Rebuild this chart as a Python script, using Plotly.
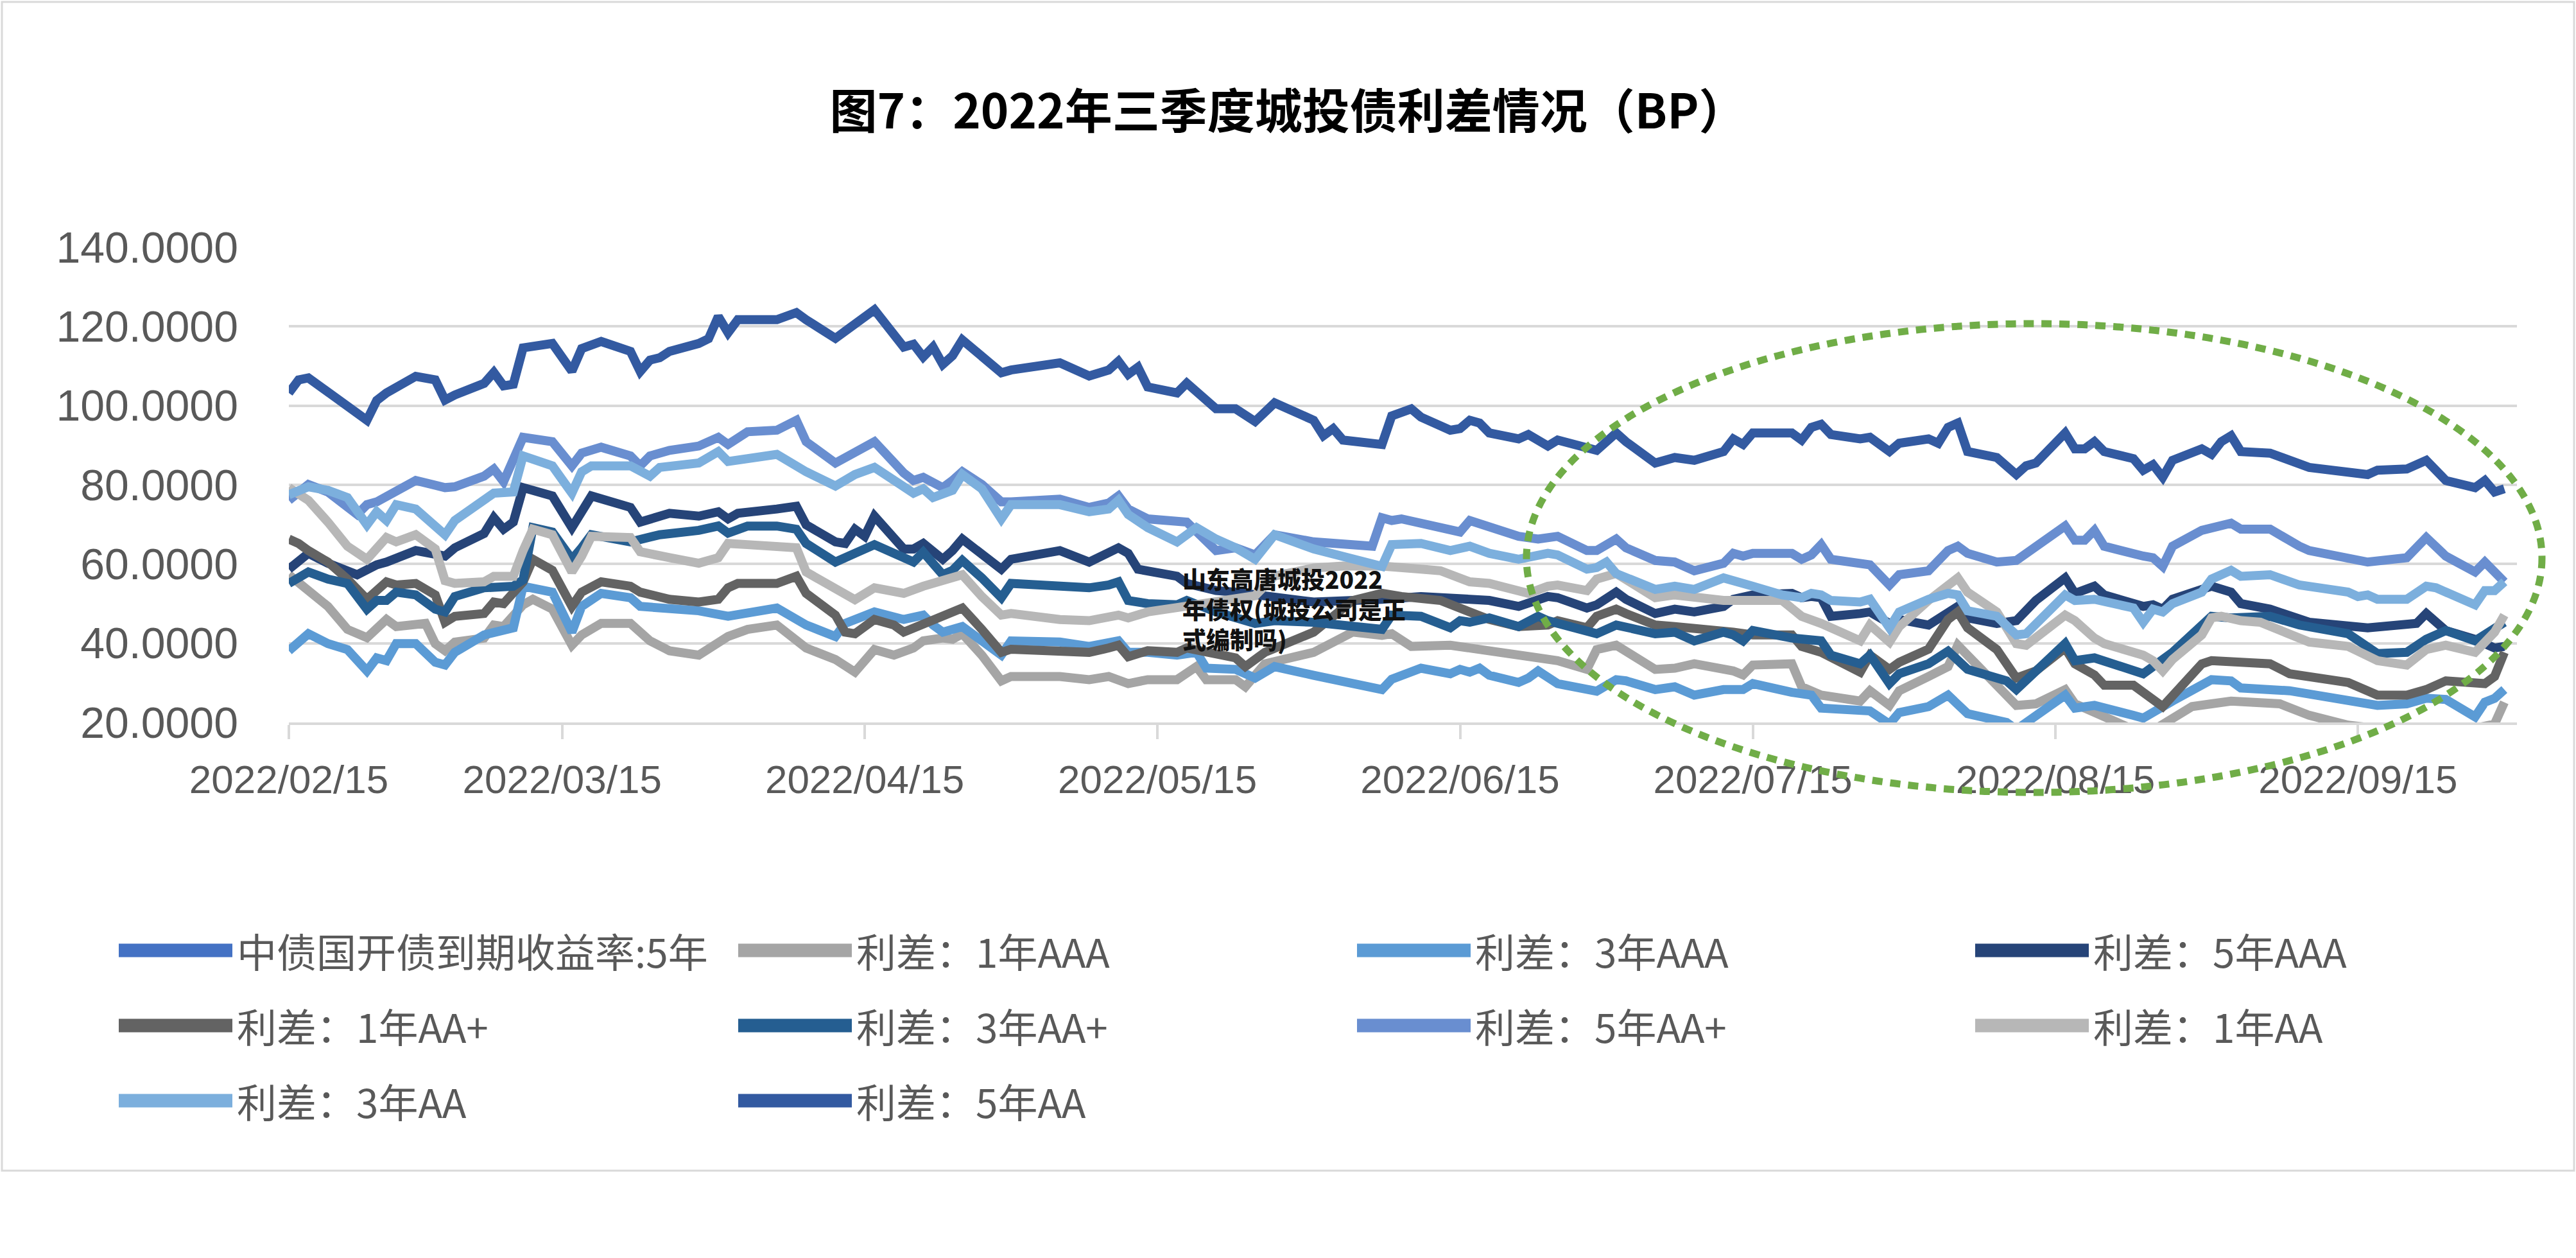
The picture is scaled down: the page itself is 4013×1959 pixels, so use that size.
import pandas as pd
import plotly.graph_objects as go

START = pd.Timestamp("2022-02-15")

# ---- data: (calendar day offset from 2022-02-15, value in BP) ----
cdb_5y = [(0, 2.72), (14, 2.76), (28, 2.86), (42, 2.83), (56, 2.82), (70, 2.77), (84, 2.62), (98, 2.66),
          (112, 2.70), (126, 2.76), (140, 2.74), (154, 2.65), (168, 2.56), (182, 2.45), (196, 2.50),
          (210, 2.47), (227, 2.53)]

aaa_1y = [(0, 57.3), (2, 53.3), (4, 49.3), (6, 43.5), (8, 41.4), (10, 46.0), (11, 44.2), (14, 45.0), (15, 39.9),
          (16, 38.1), (17, 40.3), (20, 41.3), (21, 44.6), (22, 44.2), (24, 49.7), (25, 51.1), (27, 48.6), (29, 39.5),
          (30, 42.1), (32, 45.0), (35, 45.0), (37, 40.6), (39, 38.1), (42, 37.0), (45, 41.7), (47, 43.5), (50, 44.6),
          (53, 38.8), (56, 35.9), (58, 32.7), (60, 38.4), (62, 37.0), (64, 38.8), (65, 40.6), (67, 41.3), (68, 41.0),
          (69, 42.4), (71, 37.0), (73, 30.5), (74, 31.6), (79, 31.6), (82, 30.8), (84, 31.6), (86, 29.8), (88, 30.8),
          (91, 30.8), (93, 34.1), (94, 30.8), (97, 30.8), (98, 29.0), (100, 34.8), (105, 37.7), (109, 42.8),
          (112, 42.0), (113, 42.4), (115, 39.2), (119, 39.5), (121, 38.8), (126, 37.0), (129, 36.3), (130, 35.6),
          (133, 33.4), (134, 38.4), (136, 39.5), (140, 33.4), (142, 33.7), (144, 34.8), (148, 33.0), (149, 32.0),
          (150, 34.5), (154, 34.8), (155, 29.0), (157, 26.9), (161, 25.4), (162, 28.0), (164, 24.3), (165, 28.0),
          (168, 31.6), (170, 34.1), (171, 39.5), (172, 37.0), (175, 29.8), (177, 24.3), (179, 24.7), (182, 28.3),
          (183, 24.7), (186, 21.1), (189, 18.2), (191, 18.0), (195, 24.0), (197, 24.7), (199, 25.4), (204, 24.7),
          (207, 21.8), (211, 19.3), (215, 18.2), (219, 18.2), (223, 18.0), (226, 19.6), (227, 25.1)]

aaa_3y = [(0, 38.1), (2, 42.4), (4, 39.9), (6, 38.4), (8, 33.0), (9, 36.3), (10, 35.6), (11, 39.9), (13, 39.9),
          (15, 35.2), (16, 34.5), (17, 37.7), (20, 42.1), (22, 43.5), (23, 43.9), (24, 54.4), (27, 52.9), (29, 42.8),
          (30, 49.3), (32, 52.6), (35, 51.5), (36, 49.3), (39, 48.9), (42, 48.2), (45, 46.8), (50, 48.9), (53, 44.6),
          (56, 41.7), (57, 45.0), (60, 47.9), (63, 46.0), (65, 47.1), (66, 44.6), (67, 42.8), (69, 44.2), (71, 40.6),
          (73, 37.0), (74, 40.6), (79, 40.3), (82, 39.2), (84, 39.9), (85, 40.6), (86, 37.7), (88, 37.7), (91, 37.0),
          (93, 37.7), (94, 33.7), (97, 33.4), (99, 31.2), (101, 34.1), (105, 31.9), (112, 28.3), (113, 30.9),
          (116, 33.7), (119, 32.3), (120, 33.4), (121, 32.7), (122, 33.7), (123, 31.9), (126, 30.1), (127, 31.2),
          (128, 33.0), (130, 29.8), (133, 28.3), (134, 27.9), (136, 30.8), (137, 30.5), (140, 28.3), (142, 29.0),
          (144, 26.9), (147, 28.3), (149, 28.3), (150, 29.8), (154, 27.6), (156, 26.9), (157, 23.6), (161, 23.3),
          (162, 22.9), (164, 19.6), (165, 22.5), (168, 24.0), (170, 26.9), (172, 22.2), (176, 20.0), (177, 18.2),
          (182, 26.9), (183, 23.6), (185, 24.3), (189, 21.8), (190, 21.1), (193, 25.4), (197, 30.8), (199, 30.5),
          (200, 28.7), (205, 28.0), (211, 25.8), (214, 24.3), (217, 24.7), (219, 26.1), (221, 25.8), (224, 21.4),
          (225, 25.1), (226, 26.1), (227, 28.3)]

aaa_5y = [(0, 58.7), (2, 62.7), (4, 60.2), (7, 57.3), (9, 59.8), (10, 60.5), (13, 63.4), (16, 62.0), (17, 64.1),
          (20, 67.7), (21, 71.7), (22, 68.8), (23, 70.6), (24, 79.3), (27, 77.2), (29, 69.2), (31, 77.2), (35, 74.3),
          (36, 70.6), (39, 72.8), (42, 72.1), (44, 73.2), (45, 71.4), (46, 72.8), (50, 73.9), (52, 74.6), (53, 69.9),
          (56, 65.6), (57, 65.2), (58, 68.8), (59, 67.0), (60, 72.1), (63, 63.8), (64, 63.8), (65, 65.2), (67, 61.2),
          (68, 63.4), (69, 66.3), (73, 58.7), (74, 61.2), (79, 63.4), (82, 60.5), (85, 64.1), (86, 62.7), (87, 58.7),
          (91, 56.9), (92, 55.1), (95, 53.3), (97, 52.9), (99, 52.2), (101, 51.8), (105, 50.4), (112, 51.1),
          (116, 51.8), (121, 51.1), (123, 50.8), (126, 49.3), (129, 51.8), (130, 51.5), (133, 48.9), (134, 49.7),
          (136, 52.9), (137, 51.1), (140, 47.5), (142, 48.6), (144, 47.9), (147, 49.3), (148, 51.1), (150, 52.2),
          (154, 52.6), (155, 51.5), (156, 51.8), (157, 51.5), (158, 46.8), (161, 47.5), (162, 47.9), (164, 45.0),
          (165, 46.0), (168, 44.6), (170, 48.2), (171, 49.3), (172, 46.4), (175, 45.0), (177, 45.7), (179, 50.8),
          (182, 56.5), (183, 52.6), (185, 54.4), (186, 52.2), (190, 49.3), (191, 49.7), (192, 48.6), (193, 51.1),
          (196, 53.6), (197, 54.4), (199, 52.9), (200, 50.0), (203, 48.6), (206, 46.4), (207, 45.3), (213, 43.9),
          (214, 44.2), (218, 45.0), (219, 47.5), (221, 43.2), (224, 41.0), (225, 39.9), (226, 38.8), (227, 39.2)]

aap_1y = [(0, 66.3), (1, 65.2), (2, 63.4), (4, 60.5), (6, 56.2), (8, 51.1), (10, 55.5), (11, 54.7), (13, 55.1),
          (15, 52.2), (16, 45.3), (17, 46.8), (20, 47.5), (21, 50.4), (22, 50.0), (24, 55.5), (25, 61.2), (27, 58.4),
          (29, 49.3), (30, 52.9), (32, 55.5), (35, 54.4), (36, 52.9), (39, 51.1), (42, 50.4), (44, 51.1), (45, 54.0),
          (46, 55.1), (50, 55.1), (52, 56.9), (53, 52.6), (56, 47.1), (57, 42.8), (58, 42.4), (60, 46.0), (62, 44.6),
          (63, 42.8), (65, 45.0), (67, 47.1), (69, 48.9), (71, 43.5), (73, 37.7), (74, 38.5), (79, 38.1), (82, 37.7),
          (84, 38.8), (85, 39.5), (86, 36.6), (88, 38.1), (91, 37.7), (92, 38.8), (97, 36.3), (98, 34.1), (100, 37.7),
          (105, 42.8), (109, 50.8), (112, 52.6), (114, 51.8), (118, 50.8), (121, 47.9), (123, 46.0), (126, 44.2),
          (129, 44.6), (130, 45.7), (133, 43.9), (134, 46.8), (136, 48.6), (137, 47.5), (140, 44.6), (142, 44.2),
          (144, 43.9), (148, 42.8), (150, 42.1), (154, 42.1), (155, 39.2), (157, 37.7), (161, 32.7), (162, 37.0),
          (164, 33.4), (165, 35.2), (168, 38.5), (169, 42.5), (170, 46.0), (171, 47.9), (172, 43.9), (175, 38.4),
          (177, 31.2), (179, 33.0), (182, 38.8), (183, 34.8), (185, 32.0), (186, 29.4), (189, 29.4), (192, 24.0),
          (196, 34.8), (197, 35.6), (203, 34.8), (205, 32.3), (211, 30.1), (214, 26.9), (217, 26.9), (219, 28.3),
          (221, 30.5), (225, 29.8), (226, 31.6), (227, 37.7)]

aap_3y = [(0, 55.1), (2, 58.0), (4, 56.2), (6, 55.1), (8, 48.6), (9, 50.8), (10, 50.8), (11, 52.9), (13, 52.2),
          (15, 48.6), (16, 47.9), (17, 51.8), (20, 54.0), (23, 54.4), (24, 56.0), (25, 69.2), (27, 68.1), (29, 61.2),
          (30, 64.1), (31, 67.4), (35, 65.6), (38, 67.4), (42, 68.5), (44, 69.6), (45, 67.8), (47, 69.6), (50, 69.6),
          (52, 68.8), (53, 65.2), (56, 60.5), (58, 62.7), (60, 64.9), (63, 61.6), (64, 60.5), (65, 63.0), (67, 57.3),
          (68, 58.4), (69, 60.9), (71, 56.5), (73, 51.5), (74, 55.1), (79, 54.5), (82, 54.0), (84, 54.7), (85, 55.5),
          (86, 50.8), (88, 50.0), (91, 49.7), (92, 50.8), (95, 47.9), (99, 45.0), (101, 45.7), (105, 45.3),
          (112, 43.5), (113, 47.1), (116, 46.8), (119, 43.9), (120, 45.7), (121, 45.3), (123, 46.4), (126, 44.2),
          (128, 46.8), (129, 45.7), (134, 42.4), (136, 44.6), (138, 43.5), (140, 42.4), (142, 42.8), (144, 40.6),
          (147, 42.8), (148, 42.1), (149, 40.6), (150, 43.2), (154, 41.3), (157, 40.6), (158, 37.0), (161, 34.8),
          (162, 37.0), (164, 29.8), (165, 32.3), (168, 34.8), (170, 38.0), (172, 33.4), (176, 30.5), (177, 28.3),
          (182, 39.9), (183, 35.6), (185, 36.3), (189, 32.7), (190, 32.3), (193, 37.7), (197, 46.8), (199, 46.4),
          (203, 46.8), (206, 44.6), (211, 42.4), (214, 37.4), (217, 37.7), (219, 41.0), (221, 43.2), (224, 40.6),
          (226, 44.2), (227, 45.3)]

aap_5y = [(0, 76.1), (2, 80.1), (4, 78.2), (7, 72.5), (8, 75.0), (9, 75.7), (13, 81.1), (16, 79.3), (17, 79.5),
          (20, 82.2), (21, 84.0), (22, 80.8), (24, 92.0), (27, 90.9), (29, 84.8), (30, 88.0), (32, 89.5), (35, 87.3),
          (36, 84.8), (37, 87.3), (39, 88.7), (42, 89.8), (44, 92.0), (45, 90.2), (47, 93.4), (50, 93.8), (52, 96.3),
          (53, 90.9), (56, 85.5), (58, 88.4), (60, 90.9), (63, 83.0), (64, 81.1), (65, 81.9), (67, 79.3), (68, 81.1),
          (69, 83.3), (71, 80.1), (73, 75.7), (74, 75.7), (79, 76.4), (82, 74.3), (84, 75.4), (85, 77.2), (86, 73.9),
          (88, 71.4), (92, 70.6), (95, 63.4), (97, 64.1), (99, 62.3), (101, 67.4), (105, 65.6), (111, 64.5),
          (112, 71.7), (113, 71.0), (114, 71.4), (116, 70.3), (120, 68.1), (121, 71.0), (123, 69.6), (126, 67.0),
          (128, 66.3), (130, 67.0), (133, 63.4), (134, 63.4), (136, 66.3), (137, 64.1), (140, 60.9), (142, 60.5),
          (144, 58.3), (147, 60.2), (148, 62.7), (149, 62.0), (150, 62.7), (154, 62.7), (155, 61.2), (156, 62.3),
          (157, 64.9), (158, 61.2), (162, 59.8), (164, 54.7), (165, 57.3), (168, 58.3), (170, 63.4), (171, 64.5),
          (172, 62.7), (175, 60.5), (177, 60.9), (182, 69.6), (183, 66.0), (184, 66.0), (185, 68.5), (186, 64.5),
          (190, 62.0), (191, 61.6), (192, 59.4), (193, 64.5), (196, 68.5), (199, 70.3), (200, 68.8), (203, 68.8),
          (206, 64.5), (207, 63.4), (213, 60.5), (217, 61.6), (219, 66.7), (221, 62.0), (224, 58.0), (225, 60.5),
          (226, 58.0), (227, 55.5)]

aa_1y = [(0, 79.3), (2, 76.1), (4, 70.6), (6, 64.5), (8, 61.2), (10, 66.7), (11, 65.6), (13, 67.4), (15, 63.8),
         (16, 55.8), (17, 55.1), (20, 55.5), (21, 56.9), (23, 56.9), (24, 63.4), (25, 68.8), (27, 67.4), (29, 58.0),
         (30, 62.0), (31, 67.0), (35, 66.7), (36, 63.1), (39, 61.6), (42, 60.2), (44, 61.6), (45, 65.2), (47, 64.9),
         (50, 64.5), (52, 64.1), (53, 58.0), (56, 53.5), (58, 51.0), (60, 54.0), (63, 52.6), (65, 54.4), (67, 55.8),
         (69, 57.3), (71, 51.8), (73, 47.1), (74, 47.5), (79, 46.0), (82, 45.7), (85, 47.1), (86, 46.4), (88, 47.9),
         (91, 49.0), (92, 49.5), (95, 50.5), (99, 52.0), (101, 57.0), (105, 59.0), (108, 59.5), (112, 59.5),
         (113, 59.4), (116, 58.7), (118, 58.3), (121, 55.5), (123, 55.1), (126, 53.6), (127, 52.6), (129, 54.4),
         (130, 54.7), (133, 53.3), (134, 56.2), (136, 57.6), (140, 51.5), (142, 52.2), (144, 51.5), (147, 50.8),
         (150, 50.8), (153, 50.8), (155, 46.8), (157, 45.0), (161, 40.6), (162, 44.6), (164, 40.3), (165, 44.2),
         (168, 50.8), (170, 54.4), (171, 56.5), (172, 52.9), (175, 47.9), (177, 39.9), (178, 39.5), (182, 47.1),
         (183, 45.7), (185, 41.3), (186, 39.9), (190, 37.0), (191, 35.6), (192, 33.0), (193, 35.9), (196, 42.1),
         (197, 46.4), (198, 46.8), (200, 45.7), (202, 45.3), (206, 41.3), (207, 40.3), (211, 39.2), (214, 35.6),
         (217, 34.5), (219, 38.4), (221, 39.5), (224, 37.7), (226, 42.8), (227, 47.1)]

aa_3y = [(0, 77.5), (2, 79.5), (4, 78.6), (6, 76.8), (8, 69.9), (9, 73.2), (10, 71.0), (11, 75.0), (13, 73.9),
         (16, 67.4), (17, 71.0), (20, 76.1), (21, 77.9), (23, 78.2), (24, 87.3), (27, 84.8), (29, 77.9), (30, 83.3),
         (31, 84.8), (35, 84.8), (37, 82.2), (38, 84.4), (42, 85.5), (44, 88.4), (45, 85.9), (50, 87.7), (53, 83.3),
         (56, 79.7), (58, 82.6), (60, 84.4), (63, 79.7), (64, 77.9), (65, 79.0), (66, 76.8), (68, 78.6), (69, 82.6),
         (71, 79.0), (73, 71.4), (74, 75.0), (79, 75.0), (82, 73.2), (84, 73.9), (85, 76.1), (86, 72.5), (88, 69.2),
         (91, 65.6), (93, 69.2), (95, 66.3), (97, 64.1), (99, 61.2), (101, 67.4), (105, 63.8), (112, 59.4),
         (113, 64.9), (116, 65.2), (119, 63.4), (121, 64.5), (123, 62.7), (126, 61.2), (129, 62.7), (130, 62.3),
         (133, 58.7), (134, 59.1), (135, 60.5), (136, 57.6), (140, 53.6), (142, 54.4), (144, 53.6), (147, 56.5),
         (149, 54.7), (150, 54.4), (153, 52.2), (155, 51.5), (156, 52.6), (157, 52.2), (158, 50.8), (161, 50.4),
         (162, 51.1), (164, 43.9), (165, 47.9), (168, 51.1), (170, 52.6), (171, 52.2), (172, 48.2), (175, 46.8),
         (177, 42.1), (178, 42.4), (182, 52.2), (183, 50.8), (185, 51.1), (189, 48.9), (190, 45.3), (191, 48.6),
         (192, 47.9), (193, 50.0), (196, 52.9), (197, 56.2), (199, 58.4), (200, 56.9), (203, 57.3), (206, 54.7),
         (211, 52.9), (212, 51.8), (213, 52.2), (214, 51.1), (217, 51.1), (219, 54.4), (220, 54.0), (224, 49.7),
         (225, 53.3), (226, 53.3), (227, 55.5)]

aa_5y = [(0, 103.2), (1, 106.5), (2, 107.0), (4, 103.2), (6, 100.0), (8, 96.3), (9, 101.3), (10, 103.2),
         (13, 107.4), (15, 106.5), (16, 101.4), (17, 102.7), (20, 105.6), (21, 108.4), (22, 105.0), (23, 105.4),
         (24, 114.6), (27, 115.7), (29, 108.7), (30, 114.4), (32, 116.2), (35, 113.7), (36, 108.6), (37, 111.5),
         (38, 112.1), (39, 113.7), (42, 115.7), (43, 116.9), (44, 122.5), (45, 118.4), (46, 121.7), (50, 121.7),
         (52, 123.5), (53, 121.7), (56, 117.0), (58, 120.9), (60, 124.2), (63, 114.8), (64, 115.5), (65, 112.3),
         (66, 114.8), (67, 110.4), (68, 112.6), (69, 116.6), (73, 108.3), (74, 109.0), (79, 110.8), (82, 107.5),
         (84, 109.0), (85, 111.2), (86, 107.9), (87, 109.7), (88, 104.7), (91, 103.2), (92, 105.7), (95, 99.2),
         (97, 99.2), (99, 96.0), (101, 100.7), (105, 96.3), (106, 92.4), (107, 94.2), (108, 91.3), (112, 90.2),
         (113, 97.4), (115, 99.2), (116, 97.1), (119, 93.8), (120, 94.2), (121, 96.3), (122, 95.6), (123, 93.1),
         (126, 91.6), (127, 92.7), (129, 89.8), (130, 91.3), (133, 89.1), (134, 88.7), (136, 93.1), (137, 90.9),
         (140, 85.5), (142, 86.9), (144, 86.2), (147, 88.4), (148, 91.6), (149, 90.2), (150, 93.1), (154, 93.1),
         (155, 91.3), (156, 94.5), (157, 95.3), (158, 92.7), (161, 91.6), (162, 92.0), (164, 88.4), (165, 90.5),
         (168, 91.6), (169, 90.5), (170, 94.5), (171, 95.6), (172, 88.4), (175, 86.9), (177, 82.6), (178, 84.8),
         (179, 85.5), (182, 93.1), (183, 89.1), (184, 89.1), (185, 90.9), (186, 88.4), (189, 86.6), (190, 83.7),
         (191, 85.1), (192, 81.9), (193, 86.2), (196, 89.1), (197, 87.7), (198, 90.9), (199, 92.4), (200, 88.4),
         (203, 88.0), (205, 86.2), (207, 84.4), (213, 82.6), (214, 83.7), (217, 84.0), (219, 86.2), (221, 81.1),
         (224, 79.3), (225, 81.1), (226, 78.2), (227, 79.0)]

series_names = ["中债国开债到期收益率:5年", "利差：1年AAA", "利差：3年AAA", "利差：5年AAA",
                "利差：1年AA+", "利差：3年AA+", "利差：5年AA+", "利差：1年AA",
                "利差：3年AA", "利差：5年AA"]
series_data = [cdb_5y, aaa_1y, aaa_3y, aaa_5y, aap_1y, aap_3y, aap_5y, aa_1y, aa_3y, aa_5y]
series_colors = ["#4472C4", "#A5A5A5", "#5B9BD5", "#264478", "#636363",
                 "#255E91", "#698ED0", "#B7B7B7", "#7CAFDD", "#335AA1"]

title_text = "图7：2022年三季度城投债利差情况（BP）"
watermark_lines = ["山东高唐城投2022", "年债权(城投公司是正", "式编制吗)"]

# ---- layout geometry (pixels) ----
W, H = 4013, 1959
ML, MR, MT, MB = 450, 92, 385, 834
PW = W - ML - MR
PH = H - MT - MB


def fx(x):
    return (x - ML) / PW


def fy(y):
    return (H - MB - y) / PH


fig = go.Figure()
for name, data, color in zip(series_names, series_data, series_colors):
    days = [d for d, _ in data]
    vals = [v for _, v in data]
    dates = [START + pd.Timedelta(days=d) for d in days]
    fig.add_trace(go.Scatter(x=dates, y=vals, mode="lines", name=name,
                             line=dict(color=color, width=14), showlegend=False))

shapes = []
annotations = []

# outer chart frame
shapes.append(dict(type="rect", xref="paper", yref="paper", x0=fx(3), x1=fx(4010), y0=fy(1823), y1=fy(3),
                   line=dict(color="#D9D9D9", width=3), fillcolor="rgba(0,0,0,0)", layer="below"))

# green dotted ellipse highlight
shapes.append(dict(type="circle", xref="paper", yref="paper", x0=fx(2378), x1=fx(3960), y0=fy(1234), y1=fy(504),
                   line=dict(color="#70AD47", width=11, dash="16px,12px"), layer="above"))

# manual legend (4 columns)
col_x = [185, 1150, 2114, 3077]
row_y = [1480, 1597, 1714]
for i, (name, color) in enumerate(zip(series_names, series_colors)):
    r, c = divmod(i, 4)
    x0 = col_x[c]
    y = row_y[r]
    shapes.append(dict(type="line", xref="paper", yref="paper", x0=fx(x0), x1=fx(x0 + 177), y0=fy(y), y1=fy(y),
                       line=dict(color=color, width=21)))
    annotations.append(dict(xref="paper", yref="paper", x=fx(x0 + 182), y=fy(y), xanchor="left", yanchor="middle",
                            text=name, showarrow=False,
                            font=dict(family="Noto Sans CJK SC", size=62, color="#595959")))

# overlaid bold caption text
for k, line in enumerate(watermark_lines):
    annotations.append(dict(xref="paper", yref="paper", x=fx(1840), y=fy(901 + 47 * k), xanchor="left",
                            yanchor="middle", align="left", text=line, showarrow=False,
                            font=dict(family="Noto Sans CJK SC", size=37, color="#111111", weight=900)))

fig.update_layout(
    width=W, height=H,
    margin=dict(l=ML, r=MR, t=MT, b=MB, pad=0),
    paper_bgcolor="white", plot_bgcolor="white",
    title=dict(text=title_text, x=0.5, xref="container", xanchor="center",
               y=1 - 174 / H, yref="container", yanchor="middle",
               font=dict(family="Noto Sans CJK SC", size=74, color="#000000", weight=700)),
    shapes=shapes, annotations=annotations, showlegend=False,
)

fig.update_xaxes(type="date", range=["2022-02-15", "2022-10-01 07:00"],
                 tick0="2022-02-15", dtick="M1", tickformat="%Y/%m/%d",
                 showgrid=False, zeroline=False,
                 showline=True, linecolor="#D9D9D9", linewidth=4,
                 ticks="outside", ticklen=22, tickwidth=4, tickcolor="#D9D9D9",
                 ticklabelstandoff=10,
                 tickfont=dict(family="Liberation Sans", size=62, color="#595959"))

fig.update_yaxes(range=[20, 140], dtick=20, tick0=20, tickformat=".4f",
                 showgrid=True, gridcolor="#D9D9D9", gridwidth=4,
                 zeroline=False, showline=False, ticks="",
                 ticklabelstandoff=78,
                 tickfont=dict(family="Liberation Sans", size=68, color="#595959"))

fig.write_html("out.html", config={"displayModeBar": False},
               post_script="document.body.style.margin='0px';document.body.style.overflow='hidden';")
